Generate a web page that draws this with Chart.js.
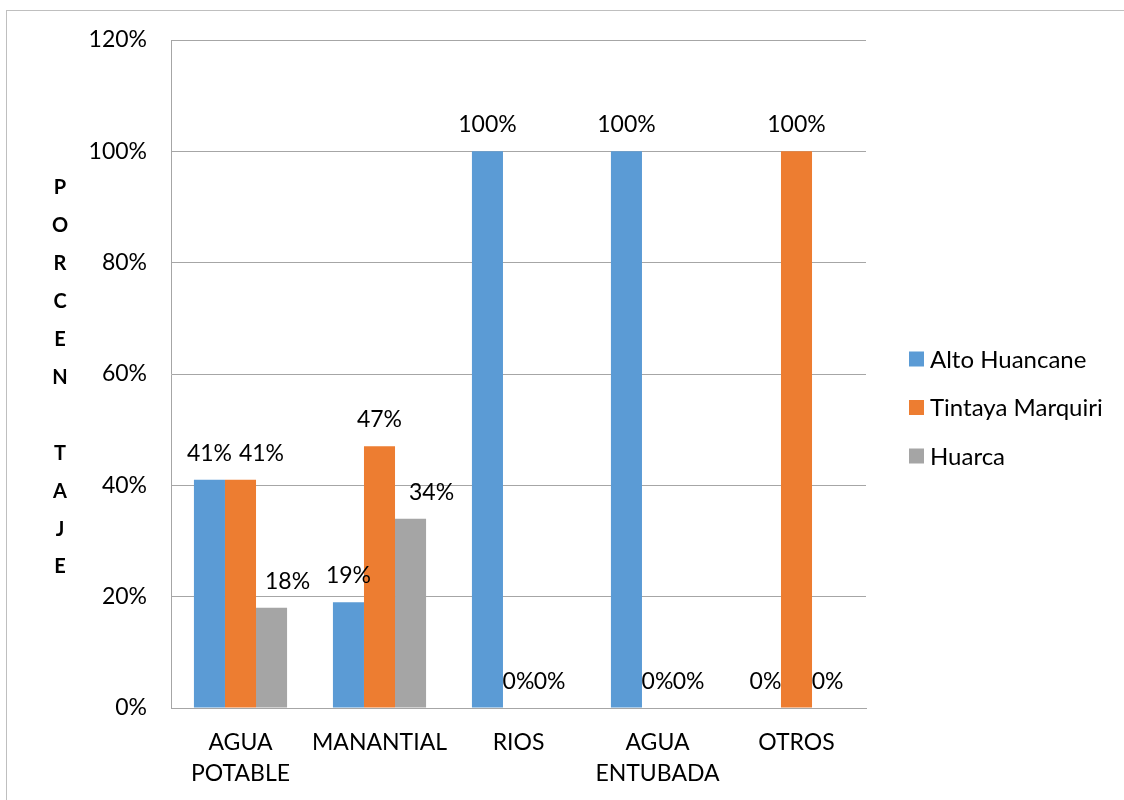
<!DOCTYPE html>
<html lang="es">
<head>
    <meta charset="UTF-8">
    <title>Fuentes de agua</title>
    <script src="https://cdn.jsdelivr.net/npm/chart.js"></script>
    <style>
        body {
            margin: 0;
            background: #fff;
            font-family: Lato, Arial, sans-serif;
        }
        #frame {
            position: absolute;
            left: 6px;
            top: 10px;
            width: 1140px;
            height: 820px;
            border: 1px solid #bfbfbf;
        }
        #wrap {
            position: absolute;
            left: 0;
            top: 0;
            width: 1124px;
            height: 800px;
        }
    </style>
</head>
<body>
    <div id="frame"></div>
    <div id="wrap"><canvas id="chart" width="1124" height="800"></canvas></div>

    <script>
        // data
        const categories = [['AGUA', 'POTABLE'], 'MANANTIAL', 'RIOS', ['AGUA', 'ENTUBADA'], 'OTROS'];
        const altoHuancane = [41, 19, 100, 100, 0];
        const tintayaMarquiri = [41, 47, 0, 0, 100];
        const huarca = [18, 34, 0, 0, 0];
        const yTicks = [0, 20, 40, 60, 80, 100, 120];
        const yTitle = 'PORCEN TAJE';

        const FONT = 'Lato, Calibri, Arial, sans-serif';
        const gridGray = '#a6a6a6';

        // a few labels sit a bit to the right in the original
        const labelNudge = { '1-0': 21, '2-0': 16, '2-1': 21 };

        // value labels above the bars
        const valueLabels = {
            id: 'valueLabels',
            afterDatasetsDraw(chart) {
                const ctx = chart.ctx;
                ctx.save();
                ctx.font = '23px ' + FONT;
                ctx.fillStyle = '#000';
                ctx.textAlign = 'center';
                ctx.textBaseline = 'alphabetic';
                chart.data.datasets.forEach((ds, di) => {
                    const meta = chart.getDatasetMeta(di);
                    meta.data.forEach((bar, i) => {
                        const dx = labelNudge[di + '-' + i] || 0;
                        ctx.fillText(ds.data[i] + '%', bar.x + dx, bar.y - 19);
                    });
                });
                ctx.restore();
            }
        };

        // stacked letters for the y axis title + legend on the right
        const sideTexts = {
            id: 'sideTexts',
            afterDraw(chart) {
                const ctx = chart.ctx;
                ctx.save();
                ctx.font = 'bold 20px ' + FONT;
                ctx.fillStyle = '#000';
                ctx.textAlign = 'center';
                ctx.textBaseline = 'middle';
                yTitle.split('').forEach((ch, i) => {
                    ctx.fillText(ch, 60, 188 + i * 37.9);
                });

                // legend
                ctx.font = '24px ' + FONT;
                ctx.textAlign = 'left';
                const lx = chart.chartArea.right + 43;
                chart.data.datasets.forEach((ds, i) => {
                    const cy = 359 + i * 48.5;
                    ctx.fillStyle = ds.backgroundColor;
                    ctx.fillRect(lx, cy - 7.5, 15, 15);
                    ctx.fillStyle = '#000';
                    ctx.fillText(ds.label, lx + 21, cy + 1);
                });
                ctx.restore();
            }
        };

        const ctx = document.getElementById('chart').getContext('2d');
        new Chart(ctx, {
            type: 'bar',
            data: {
                labels: categories,
                datasets: [
                    { label: 'Alto Huancane', data: altoHuancane, backgroundColor: '#5b9bd5' },
                    { label: 'Tintaya Marquiri', data: tintayaMarquiri, backgroundColor: '#ed7d31' },
                    { label: 'Huarca', data: huarca, backgroundColor: '#a5a5a5' }
                ]
            },
            options: {
                responsive: false,
                animation: false,
                layout: {
                    padding: { left: 0, top: 40, right: 258, bottom: 0 }
                },
                datasets: {
                    bar: { categoryPercentage: 0.67, barPercentage: 1 }
                },
                plugins: {
                    tooltip: { enabled: false },
                    legend: { display: false }
                },
                scales: {
                    x: {
                        afterFit(scale) { scale.height = 92; },
                        grid: { display: false },
                        border: { color: gridGray },
                        ticks: {
                            color: '#000',
                            font: { family: FONT, size: 23, lineHeight: 1.35 },
                            padding: 11,
                            maxRotation: 0
                        }
                    },
                    y: {
                        min: 0,
                        max: 120,
                        afterFit(scale) { scale.width = 171; },
                        afterBuildTicks(scale) {
                            scale.ticks = yTicks.map(v => ({ value: v }));
                        },
                        grid: { color: gridGray, drawTicks: false },
                        border: { color: gridGray },
                        ticks: {
                            color: '#000',
                            font: { family: FONT, size: 23 },
                            padding: 24,
                            callback: v => v + '%'
                        }
                    }
                }
            },
            plugins: [valueLabels, sideTexts]
        });
    </script>
</body>
</html>
